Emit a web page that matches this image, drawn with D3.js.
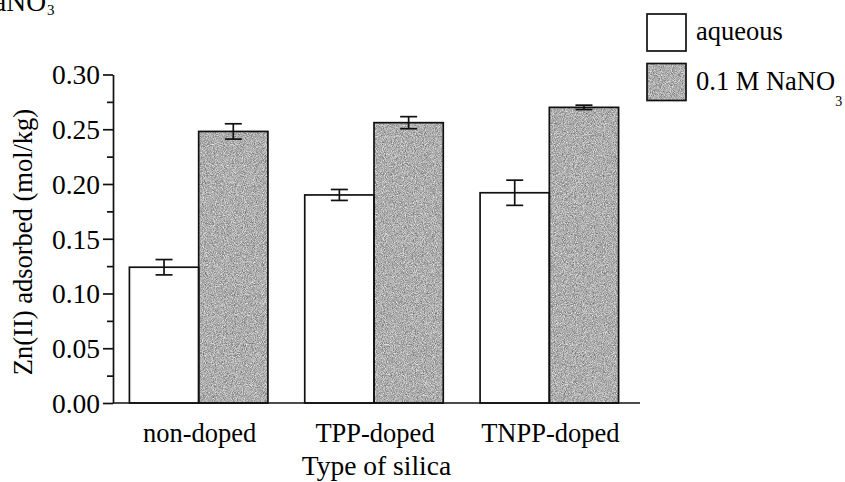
<!DOCTYPE html>
<html>
<head>
<meta charset="utf-8">
<script src="https://cdn.jsdelivr.net/npm/d3@7"></script>
<style>
  body { margin: 0; background: #fff; }
  text { font-family: "Liberation Serif", "Times New Roman", serif; fill: #000; }
</style>
</head>
<body>
<script>
"use strict";

// values
const silicaTypes = ["non-doped", "TPP-doped", "TNPP-doped"];
const seriesNames = ["aqueous", "0.1 M NaNO"];
const aqueousValues = [0.124, 0.190, 0.192];
const aqueousErrors = [0.007, 0.005, 0.0115];
const nitrateValues = [0.248, 0.256, 0.270];
const nitrateErrors = [0.007, 0.0055, 0.002];
const yTicks = [0.00, 0.05, 0.10, 0.15, 0.20, 0.25, 0.30];
const yMinorTicks = [0.025, 0.075, 0.125, 0.175, 0.225, 0.275];

const width = 845, height = 482;
const plotLeft = 113, plotRight = 640, plotTop = 74.5, plotBottom = 403;
const ink = "#111";

const svg = d3.select("body").append("svg")
    .attr("width", width)
    .attr("height", height);

// speckled grey fill like the scanned original
const defs = svg.append("defs");
const grain = defs.append("filter").attr("id", "grain")
    .attr("x", 0).attr("y", 0).attr("width", 1).attr("height", 1)
    .attr("color-interpolation-filters", "sRGB");
grain.append("feTurbulence")
    .attr("type", "fractalNoise")
    .attr("baseFrequency", 1.1)
    .attr("numOctaves", 2)
    .attr("seed", 3)
    .attr("result", "noise");
grain.append("feColorMatrix")
    .attr("in", "noise")
    .attr("type", "matrix")
    .attr("values", "0.7 0 0 0 0.33  0.7 0 0 0 0.33  0.7 0 0 0 0.33  0 0 0 0 1")
    .attr("result", "grey");
grain.append("feComposite")
    .attr("in", "grey")
    .attr("in2", "SourceGraphic")
    .attr("operator", "in");

const x = d3.scaleBand()
    .domain(silicaTypes)
    .range([plotLeft - 2, plotRight - 3])
    .paddingInner(0.21)
    .paddingOuter(0.105);

const xSub = d3.scaleBand()
    .domain(seriesNames)
    .range([0, x.bandwidth()]);

const y = d3.scaleLinear()
    .domain([0, 0.30])
    .range([plotBottom, plotTop]);

const rows = silicaTypes.map((t, i) => [
    {type: t, series: seriesNames[0], value: aqueousValues[i], err: aqueousErrors[i]},
    {type: t, series: seriesNames[1], value: nitrateValues[i], err: nitrateErrors[i]}
]).flat();

const bx = d => x(d.type) + xSub(d.series);

// bars
svg.selectAll("rect.fill")
    .data(rows.filter(d => d.series === seriesNames[1]))
    .enter().append("rect")
    .attr("class", "fill")
    .attr("x", bx)
    .attr("y", d => y(d.value))
    .attr("width", xSub.bandwidth())
    .attr("height", d => y(0) - y(d.value))
    .attr("fill", "#a8a8a8")
    .attr("filter", "url(#grain)");

svg.selectAll("rect.bar")
    .data(rows)
    .enter().append("rect")
    .attr("class", "bar")
    .attr("x", bx)
    .attr("y", d => y(d.value))
    .attr("width", xSub.bandwidth())
    .attr("height", d => y(0) - y(d.value))
    .attr("fill", "none")
    .attr("stroke", ink)
    .attr("stroke-width", 1.7);

// error bars
const cap = 8.5;
const eb = svg.selectAll("g.err")
    .data(rows)
    .enter().append("g")
    .attr("class", "err")
    .attr("stroke", ink)
    .attr("stroke-width", 1.7);
eb.append("line")
    .attr("x1", d => bx(d) + xSub.bandwidth() / 2)
    .attr("x2", d => bx(d) + xSub.bandwidth() / 2)
    .attr("y1", d => y(d.value - d.err))
    .attr("y2", d => y(d.value + d.err));
eb.append("line")
    .attr("x1", d => bx(d) + xSub.bandwidth() / 2 - cap)
    .attr("x2", d => bx(d) + xSub.bandwidth() / 2 + cap)
    .attr("y1", d => y(d.value + d.err))
    .attr("y2", d => y(d.value + d.err));
eb.append("line")
    .attr("x1", d => bx(d) + xSub.bandwidth() / 2 - cap)
    .attr("x2", d => bx(d) + xSub.bandwidth() / 2 + cap)
    .attr("y1", d => y(d.value - d.err))
    .attr("y2", d => y(d.value - d.err));

// y axis, major + minor ticks
const yAxis = svg.append("g")
    .attr("transform", "translate(" + plotLeft + ",0)")
    .call(d3.axisLeft(y).tickValues(yTicks).tickFormat(d3.format(".2f"))
        .tickSize(10).tickPadding(3).tickSizeOuter(0));
yAxis.select(".domain").attr("stroke", ink).attr("stroke-width", 1.7);
yAxis.selectAll(".tick line").attr("stroke", ink).attr("stroke-width", 1.7);
yAxis.selectAll(".tick text")
    .attr("font-size", 27.5)
    .attr("font-family", "Liberation Serif, Times New Roman, serif")
    .attr("fill", "#000")
    .attr("dy", "0.34em");

svg.append("g")
    .attr("transform", "translate(" + plotLeft + ",0)")
    .call(d3.axisLeft(y).tickValues(yMinorTicks).tickFormat("").tickSize(6).tickSizeOuter(0))
    .call(g => g.select(".domain").remove())
    .selectAll(".tick line").attr("stroke", ink).attr("stroke-width", 1.7);

// x axis: baseline only, labels under groups
svg.append("line")
    .attr("x1", plotLeft).attr("x2", plotRight)
    .attr("y1", y(0)).attr("y2", y(0))
    .attr("stroke", ink)
    .attr("stroke-width", 1.7);

svg.selectAll("text.cat")
    .data(silicaTypes)
    .enter().append("text")
    .attr("class", "cat")
    .attr("x", d => x(d) + x.bandwidth() / 2 + 1)
    .attr("y", 442)
    .attr("text-anchor", "middle")
    .attr("font-size", 26.5)
    .text(d => d);

svg.append("text")
    .attr("x", (plotLeft + plotRight) / 2)
    .attr("y", 475)
    .attr("text-anchor", "middle")
    .attr("font-size", 27.5)
    .text("Type of silica");

svg.append("text")
    .attr("transform", "translate(32," + 242 + ") rotate(-90)")
    .attr("text-anchor", "middle")
    .attr("font-size", 26.5)
    .text("Zn(II) adsorbed (mol/kg)");

// legend
const legend = svg.append("g").attr("transform", "translate(647,14)");
seriesNames.forEach(function(name, i) {
    var g = legend.append("g").attr("transform", "translate(0," + (i * 49.5) + ")");
    if (i === 1) {
        g.append("rect")
            .attr("width", 39).attr("height", 37)
            .attr("fill", "#a8a8a8")
            .attr("filter", "url(#grain)");
    }
    g.append("rect")
        .attr("width", 39).attr("height", 37)
        .attr("fill", i === 1 ? "none" : "#fff")
        .attr("stroke", ink)
        .attr("stroke-width", 1.7);
    var t = g.append("text")
        .attr("x", 49)
        .attr("y", 26)
        .attr("font-size", 26.5)
        .text(name);
    if (i === 1) {
        t.append("tspan")
            .attr("font-size", 14)
            .attr("dy", 16)
            .attr("dx", 0)
            .text("3");
    }
});

// cropped heading remnant at top-left
svg.append("text")
    .attr("x", 46)
    .attr("y", 11)
    .attr("text-anchor", "end")
    .attr("font-size", 27.5)
    .text("NaNO");
svg.append("text")
    .attr("x", 47)
    .attr("y", 15)
    .attr("font-size", 15)
    .text("3");
</script>
</body>
</html>
